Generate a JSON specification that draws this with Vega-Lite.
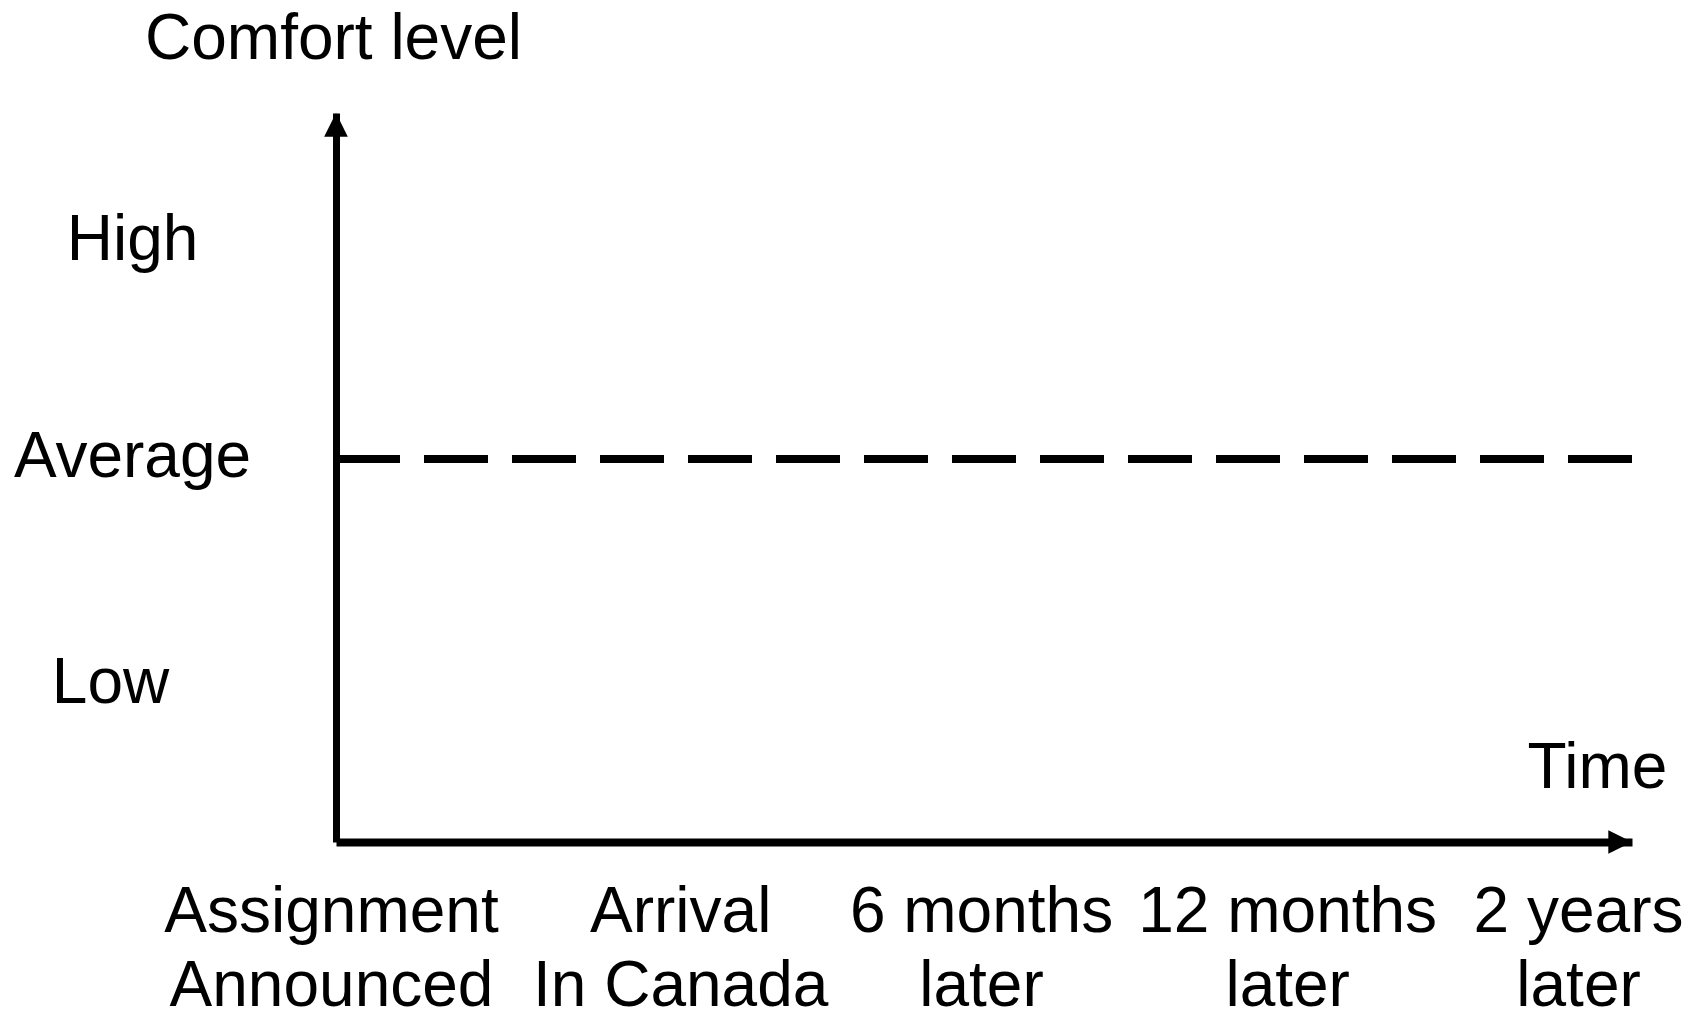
{
  "$schema": "https://vega.github.io/schema/vega-lite/v6.json",
  "autosize": {"type": "none"},
  "padding": {"left": 336, "top": 113, "right": 72, "bottom": 171},
  "width": 1296,
  "height": 729,
  "background": "white",
  "config": {
    "view": {"stroke": null},
    "font": "Liberation Sans",
    "axis": {
      "grid": false,
      "ticks": false,
      "tickSize": 0,
      "domainColor": "black",
      "domainCap": "butt",
      "labelColor": "black",
      "labelFont": "Liberation Sans",
      "labelFontSize": 64,
      "labelLimit": 2000,
      "labelOverlap": false,
      "labelBound": false,
      "labelFlush": false,
      "titleColor": "black",
      "titleFont": "Liberation Sans",
      "titleFontSize": 64,
      "titleFontWeight": "normal",
      "titleLimit": 2000
    }
  },
  "datasets": {
    "levels": [
      {"level": "High", "value": 1},
      {"level": "Average", "value": 0},
      {"level": "Low", "value": -1.048}
    ],
    "arrows": [
      {"axis": "Comfort level", "dir": "up", "t": 0, "value": 1.601},
      {"axis": "Time", "dir": "right", "t": 4.157, "value": -1.771}
    ],
    "timeline": [
      {"point": "Assignment Announced", "t": 0},
      {"point": "Arrival In Canada", "t": 1.12},
      {"point": "6 months later", "t": 2.085},
      {"point": "12 months later", "t": 3.067},
      {"point": "2 years later", "t": 4}
    ]
  },
  "layer": [
    {
      "data": {"name": "levels"},
      "transform": [{"filter": "datum.level == 'Average'"}],
      "mark": {"type": "rule", "color": "black", "strokeWidth": 8, "strokeDash": [64, 24]},
      "encoding": {
        "y": {"field": "value", "type": "quantitative", "scale": {"domain": [-1.771, 1.601], "nice": false, "zero": false}}
      }
    },
    {
      "data": {"name": "arrows"},
      "mark": {"type": "point", "filled": true, "color": "black", "opacity": 1, "size": 560, "strokeWidth": 0},
      "encoding": {
        "x": {
          "field": "t", "type": "quantitative",
          "scale": {"domain": [0, 4.157], "nice": false, "zero": false},
          "axis": {
            "title": "Time",
            "domainWidth": 8,
            "values": [0, 1.12, 2.085, 3.067, 4],
            "labelExpr": "datum.value < 0.5 ? ['Assignment', 'Announced'] : datum.value < 1.5 ? ['Arrival', 'In Canada'] : datum.value < 2.5 ? ['6 months', 'later'] : datum.value < 3.5 ? ['12 months', 'later'] : ['2 years', 'later']",
            "labelAlign": "center",
            "labelBaseline": "top",
            "labelPadding": 38,
            "labelOffset": -5,
            "labelLineHeight": 74,
            "titleX": 1261,
            "titleY": -55,
            "titleAlign": "center",
            "titleBaseline": "alphabetic",
            "titleAngle": 0
          }
        },
        "y": {
          "field": "value", "type": "quantitative",
          "scale": {"domain": [-1.771, 1.601], "nice": false, "zero": false},
          "axis": {
            "title": "Comfort level",
            "domainWidth": 7,
            "values": [1, 0, -1.048],
            "labelExpr": "datum.value > 0.5 ? 'High' : datum.value > -0.5 ? 'Average' : 'Low'",
            "labelAlign": "center",
            "labelBaseline": "middle",
            "labelOffset": -2,
            "labelPadding": {"condition": {"test": "datum.value < -0.5", "value": 226}, "value": 204},
            "titleAngle": 0,
            "titleX": -3,
            "titleY": -55,
            "titleAlign": "center",
            "titleBaseline": "alphabetic"
          }
        },
        "shape": {
          "field": "dir", "type": "nominal",
          "scale": {"domain": ["up", "right"], "range": ["M0,0L-1,2L1,2Z", "M0,0L-2,-1L-2,1Z"]},
          "legend": null
        }
      }
    }
  ]
}
